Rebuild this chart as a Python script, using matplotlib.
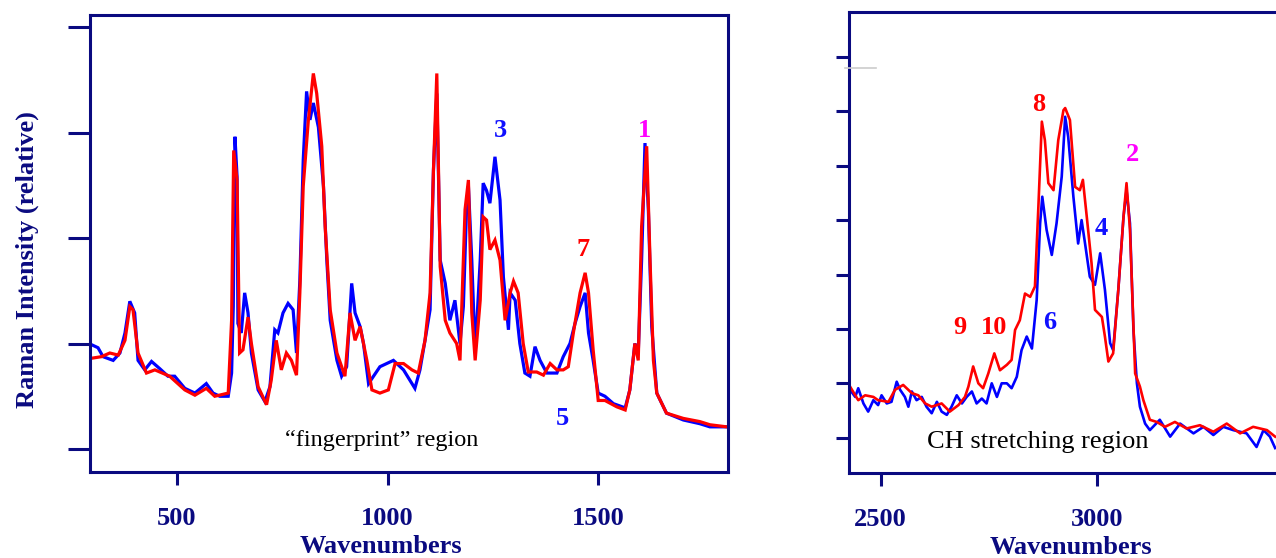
import matplotlib
matplotlib.use("Agg")
import matplotlib.pyplot as plt
from matplotlib.lines import Line2D

# ---------------- data: fingerprint region ----------------
fp_blue_x = [297, 313, 325, 349, 365, 377, 388.5, 400, 408, 424, 440, 460, 479, 495, 519, 543, 570, 586, 602, 622,
             630, 634, 638, 643, 645, 653, 661, 669, 677, 693, 709, 721, 732.5, 740, 752, 764, 776, 784, 792, 800,
             808, 816, 824, 836, 848, 856, 864, 880, 891, 903, 915, 923, 935, 943, 955, 982, 1014, 1038, 1065, 1077,
             1089, 1101, 1109, 1117, 1125, 1137, 1148, 1160, 1172, 1180, 1188, 1192, 1200, 1208, 1220, 1227, 1235,
             1243, 1255, 1267, 1275, 1287, 1291, 1303, 1314, 1326, 1338, 1350, 1362, 1378, 1402, 1417, 1433, 1445,
             1457, 1469, 1477, 1488, 1500, 1516, 1536, 1564, 1575, 1587, 1595, 1603, 1611, 1619, 1627, 1639, 1662,
             1702, 1741, 1765, 1805]
fp_blue_y = [0.99, 0.96, 0.875, 0.84, 0.91, 1.10, 1.40, 1.29, 0.84, 0.75, 0.83, 0.76, 0.69, 0.69, 0.575, 0.53, 0.62,
             0.53, 0.50, 0.50, 0.72, 1.35, 2.96, 2.58, 1.19, 1.10, 1.48, 1.29, 0.91, 0.56, 0.45, 0.59, 1.13, 1.10,
             1.29, 1.38, 1.32, 0.91, 1.60, 2.74, 3.39, 3.12, 3.28, 3.05, 2.49, 1.79, 1.22, 0.84, 0.69, 0.78, 1.57,
             1.29, 1.16, 1.00, 0.62, 0.78, 0.84, 0.75, 0.575, 0.75, 1.03, 1.32, 2.64, 3.37, 1.79, 1.57, 1.22, 1.41,
             1.00, 1.35, 2.33, 2.49, 1.79, 0.91, 1.79, 2.52, 2.45, 2.33, 2.77, 2.36, 1.63, 1.13, 1.48, 1.41, 1.00,
             0.72, 0.69, 0.97, 0.84, 0.72, 0.72, 0.875, 1.00, 1.19, 1.35, 1.48, 1.10, 0.84, 0.53, 0.50, 0.43, 0.39,
             0.56, 1.00, 0.91, 1.79, 2.90, 2.27, 1.16, 0.53, 0.34, 0.275, 0.24, 0.21, 0.21]

fp_red_x = [297, 321, 341, 361, 377, 388.5, 396, 408, 428, 448, 483, 519, 543, 570, 590, 622, 630, 635, 643, 649,
            657, 669, 677, 693, 713, 724, 736, 748, 760, 772, 784, 792, 800, 812, 824, 832, 844, 852, 864, 880, 899,
            911, 923, 935, 951, 963, 982, 1002, 1018, 1038, 1058, 1073, 1089, 1101, 1109, 1117, 1125, 1137, 1148,
            1164, 1172, 1184, 1192, 1200, 1208, 1220, 1227, 1235, 1243, 1255, 1267, 1279, 1291, 1299, 1310, 1322,
            1334, 1354, 1370, 1386, 1402, 1417, 1429, 1441, 1457, 1469, 1477, 1488, 1500, 1516, 1544, 1564, 1575,
            1587, 1595, 1603, 1615, 1623, 1631, 1639, 1662, 1702, 1741, 1765, 1805]
fp_red_y = [0.86, 0.875, 0.91, 0.89, 1.03, 1.35, 1.32, 0.91, 0.72, 0.75, 0.69, 0.56, 0.51, 0.575, 0.50, 0.53, 1.22,
            2.83, 2.55, 0.91, 0.94, 1.25, 1.00, 0.59, 0.42, 0.65, 1.03, 0.75, 0.91, 0.84, 0.70, 1.48, 2.49, 3.11,
            3.56, 3.37, 2.87, 2.11, 1.32, 0.91, 0.69, 1.29, 1.03, 1.16, 0.84, 0.56, 0.53, 0.56, 0.81, 0.81, 0.75,
            0.72, 1.03, 1.48, 2.64, 3.56, 1.73, 1.22, 1.10, 1.00, 0.84, 2.27, 2.55, 1.29, 0.84, 1.41, 2.20, 2.17,
            1.89, 1.98, 1.79, 1.22, 1.48, 1.59, 1.48, 1.00, 0.73, 0.73, 0.70, 0.81, 0.75, 0.75, 0.78, 1.10, 1.48,
            1.67, 1.48, 0.94, 0.46, 0.46, 0.40, 0.37, 0.56, 1.00, 0.84, 2.11, 2.87, 1.79, 0.84, 0.53, 0.34, 0.29,
            0.26, 0.23, 0.21]

# ---------------- data: CH stretching region ----------------
ch_blue_x = [2429, 2441, 2448, 2460, 2471, 2483, 2494, 2502, 2514, 2525, 2537, 2545, 2556, 2564, 2572, 2583, 2595,
             2606, 2618, 2630, 2641, 2653, 2664, 2676, 2688, 2699, 2711, 2722, 2734, 2745, 2757, 2769, 2780, 2792,
             2803, 2815, 2826, 2838, 2850, 2861, 2869, 2874, 2884, 2896, 2907, 2919, 2927, 2934, 2946, 2957, 2965,
             2973, 2984, 2996, 3008, 3019, 3031, 3038, 3050, 3062, 3069, 3077, 3085, 3093, 3100, 3112, 3123, 3146,
             3170, 3193, 3224, 3247, 3270, 3293, 3316, 3347, 3370, 3386, 3401, 3413]
ch_blue_y = [0.88, 0.75, 0.91, 0.63, 0.48, 0.69, 0.60, 0.78, 0.63, 0.66, 1.03, 0.88, 0.75, 0.57, 0.85, 0.69, 0.75,
             0.57, 0.45, 0.66, 0.48, 0.42, 0.57, 0.78, 0.63, 0.75, 0.85, 0.63, 0.72, 0.63, 1.00, 0.75, 1.00, 1.00,
             0.91, 1.12, 1.61, 1.86, 1.64, 2.53, 3.94, 4.43, 3.82, 3.36, 3.94, 4.80, 5.90, 5.53, 4.43, 3.57, 4.00,
             3.57, 2.96, 2.81, 3.39, 2.72, 1.74, 1.61, 2.72, 4.06, 4.55, 3.94, 1.98, 1.00, 0.57, 0.26, 0.14, 0.33,
             0.02, 0.26, 0.08, 0.20, 0.05, 0.20, 0.14, 0.08, -0.17, 0.14, 0.02, -0.19]

ch_red_x = [2429, 2448, 2464, 2483, 2494, 2518, 2533, 2552, 2572, 2587, 2603, 2618, 2641, 2660, 2680, 2695, 2703,
            2714, 2726, 2737, 2749, 2763, 2776, 2792, 2803, 2811, 2822, 2834, 2846, 2857, 2865, 2873, 2880, 2888,
            2900, 2911, 2923, 2927, 2938, 2950, 2961, 2968, 2977, 2988, 2996, 3012, 3019, 3027, 3038, 3050, 3062,
            3069, 3077, 3089, 3100, 3108, 3123, 3139, 3158, 3181, 3208, 3239, 3270, 3301, 3332, 3362, 3394, 3413]
ch_red_y = [0.94, 0.69, 0.78, 0.75, 0.69, 0.66, 0.88, 0.97, 0.82, 0.78, 0.63, 0.57, 0.63, 0.48, 0.60, 0.75, 0.94,
            1.31, 1.00, 0.91, 1.18, 1.55, 1.24, 1.34, 1.43, 1.98, 2.16, 2.65, 2.59, 2.78, 4.25, 5.81, 5.47, 4.68,
            4.55, 5.47, 6.02, 6.06, 5.84, 4.61, 4.55, 4.74, 4.06, 3.21, 2.35, 2.22, 1.86, 1.40, 1.55, 2.72, 4.06,
            4.68, 3.82, 1.18, 0.94, 0.69, 0.33, 0.29, 0.20, 0.29, 0.17, 0.23, 0.11, 0.26, 0.08, 0.20, 0.14, 0.02]

fp_ticks = [500, 1000, 1500]
ch_ticks = [2500, 3000]

fp_labels = [("3", 1269, 3.02, "#1010ff"), ("1", 1611, 3.02, "#ff00ff"), ("7", 1464, 1.89, "#ff0000"),
             ("5", 1416, 0.29, "#1010ff")]
ch_labels = [("8", 2866, 6.12, "#ff0000"), ("2", 3082, 5.20, "#ff00ff"), ("4", 3010, 3.85, "#1010ff"),
             ("9", 2684, 2.02, "#ff0000"), ("10", 2762, 2.02, "#ff0000"), ("6", 2890, 2.11, "#1010ff")]

NAVY = "#0a0a80"
SERIF = ["Liberation Serif", "DejaVu Serif"]

W, H = 1276, 558
fig = plt.figure(figsize=(W / 100, H / 100), dpi=100)

ax1 = fig.add_axes([90 / W, 1 - 472 / H, 638 / W, 457 / H])
ax2 = fig.add_axes([849 / W, 1 - 473.3 / H, (W - 849) / W, 461 / H])

# fingerprint panel
ax1.plot(fp_blue_x, fp_blue_y, color="#0000ff", lw=2.3, solid_joinstyle="miter")
ax1.plot(fp_red_x, fp_red_y, color="#ff0000", lw=2.3, solid_joinstyle="miter")
ax1.set_xlim(294, 1808)
ax1.set_ylim(-0.218, 4.114)
ax1.set_yticks([0, 1, 2, 3, 4])
ax1.set_xticks(fp_ticks)

# CH panel
ax2.plot(ch_blue_x, ch_blue_y, color="#0000ff", lw=1.9)
ax2.plot(ch_red_x, ch_red_y, color="#ff0000", lw=1.9)
ax2.set_xlim(2426.6, 3415)
ax2.set_ylim(-0.654, 7.82)
ax2.set_yticks(range(8))
ax2.set_xticks(ch_ticks)
ax2.spines["right"].set_visible(False)

for ax, ylen in ((ax1, 16), (ax2, 9.5)):
    for s in ax.spines.values():
        s.set_color(NAVY)
        s.set_linewidth(2.2)
    ax.tick_params(axis="y", direction="out", length=ylen, width=2.2, color=NAVY, labelleft=False)
    ax.tick_params(axis="x", direction="out", length=9, width=2.2, color=NAVY, pad=16,
                   labelsize=19, labelcolor=NAVY)
    for lab in ax.get_xticklabels():
        lab.set_fontfamily(SERIF)
        lab.set_fontweight("bold")

ax1.set_xlabel("Wavenumbers", fontsize=19, fontweight="bold", color=NAVY, family=SERIF)
ax1.xaxis.set_label_coords(0.456, -0.138)
ax2.set_xlabel("Wavenumbers", fontsize=19, fontweight="bold", color=NAVY, family=SERIF)
ax2.xaxis.set_label_coords(0.52, -0.135)

fig.text(27 / W, 1 - 260 / H, "Raman Intensity (relative)", rotation=90, ha="center", va="center",
         fontsize=19, fontweight="bold", color=NAVY, family=SERIF)

for t, x, y, c in fp_labels:
    ax1.text(x, y, t, color=c, fontsize=19, fontweight="bold", family=SERIF, ha="center", va="center")
for t, x, y, c in ch_labels:
    ax2.text(x, y, t, color=c, fontsize=19, fontweight="bold", family=SERIF, ha="center", va="center")

ax1.text(985, 0.08, "\u201cfingerprint\u201d region", fontsize=17.5, family=SERIF, color="black",
         ha="center", va="center")
ax2.text(2864, -0.08, "CH stretching region", fontsize=19, family=SERIF, color="black",
         ha="center", va="center")

fig.add_artist(Line2D([845 / W, 876 / W], [1 - 67.7 / H] * 2, color="#cccccc", lw=1.2))

fig.savefig("out.png", dpi=100)
